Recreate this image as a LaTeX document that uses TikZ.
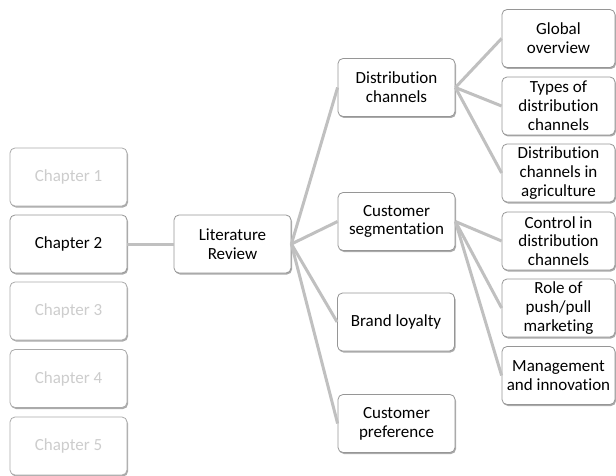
\documentclass[tikz,border=0pt]{standalone}
\usepackage{fontspec}
\setmainfont{Carlito}[Ligatures=NoCommon]
\usetikzlibrary{shadows}
\definecolor{linkgray}{RGB}{192,192,192}
\definecolor{boxline}{RGB}{150,150,150}
\definecolor{fadetext}{RGB}{205,205,205}
\definecolor{fadeline}{RGB}{170,170,170}
\tikzset{
  x=1pt, y=-1pt,
  topic/.style={draw=boxline, line width=0.8pt, fill=white, rounded corners=5pt,
    align=center, inner sep=1pt, font=\fontsize{17}{18.8}\selectfont,
    drop shadow={shadow xshift=1pt, shadow yshift=-1.5pt, fill=black!55, opacity=0.6}},
  chapter/.style={topic, minimum width=117pt, minimum height=58pt},
  faded/.style={chapter, draw=fadeline, text=fadetext},
  midbox/.style={topic, minimum width=117pt, minimum height=58pt},
  leafbox/.style={topic, minimum width=113pt, minimum height=58pt},
  link/.style={draw=linkgray, line width=3pt}
}
\begin{document}
\begin{tikzpicture}
\useasboundingbox (0,0) rectangle (616,476);

% chapter column
\node[faded]   (ch1) at (68.5,177)   {Chapter 1};
\node[chapter] (ch2) at (68.5,244)   {Chapter 2};
\node[faded]   (ch3) at (68.5,311)   {Chapter 3};
\node[faded]   (ch4) at (68.5,378.5) {Chapter 4};
\node[faded]   (ch5) at (68.5,446)   {Chapter 5};

% literature review
\node[chapter] (lit) at (232.5,244) {Literature\\Review};

% review topics
\node[midbox] (dc) at (396.5,87.5)  {Distribution\\channels};
\node[midbox] (cs) at (396.5,221.5) {Customer\\segmentation};
\node[midbox] (bl) at (396,322)     {Brand loyalty};
\node[midbox] (cp) at (396.5,423.5) {Customer\\preference};

% sub-topics
\node[leafbox] (go) at (558.5,38.5)  {Global\\overview};
\node[leafbox] (ty) at (558.5,106)   {Types of\\distribution\\channels};
\node[leafbox] (ag) at (558.5,173)   {Distribution\\channels in\\agriculture};
\node[leafbox] (co) at (558.5,241)   {Control in\\distribution\\channels};
\node[leafbox] (ro) at (558.5,308)   {Role of\\push/pull\\marketing};
\node[leafbox] (mi) at (558.5,375.5) {Management\\and innovation};

% connectors
\draw[link] (ch2.east) -- (lit.west);
\foreach \t in {dc,cs,bl,cp} \draw[link] (lit.east) -- (\t.west);
\foreach \t in {go,ty,ag} \draw[link] (dc.east) -- (\t.west);
\foreach \t in {co,ro,mi} \draw[link] (cs.east) -- (\t.west);
\end{tikzpicture}
\end{document}
